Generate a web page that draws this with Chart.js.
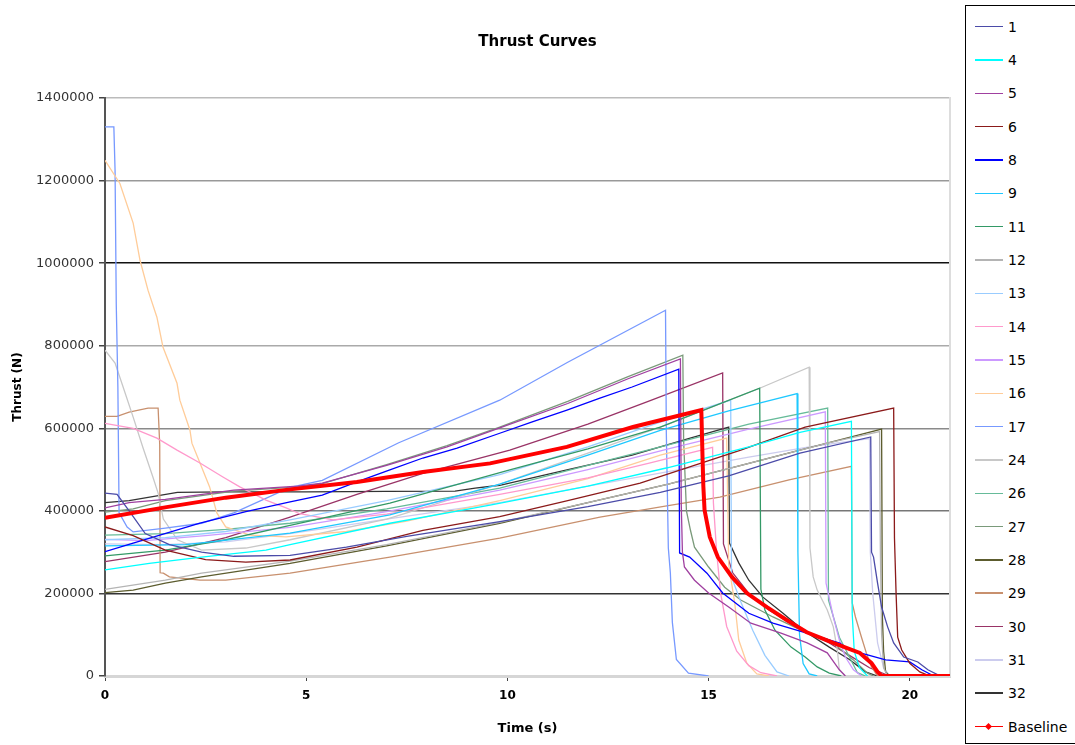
<!DOCTYPE html>
<html>
<head>
<meta charset="utf-8">
<script src="https://cdn.jsdelivr.net/npm/chart.js@4.4.0/dist/chart.umd.min.js"></script>
<style>
  html, body { margin:0; padding:0; background:#fff; overflow:hidden; }
  #wrap { position:absolute; left:0; top:0; width:1075px; height:745px; }
  #legend { position:absolute; left:965px; top:5px; width:140px; height:739px; border:1px solid #000; box-sizing:border-box; background:#fff;
            font-family:"DejaVu Sans", sans-serif; font-size:14px; color:#000; padding-top:4px; }
  .row { display:flex; align-items:center; height:33.333px; }
  .sample { position:relative; margin-left:9px; width:28px; height:2px; }
  .dia { position:absolute; left:11px; top:-2px; width:5px; height:5px; background:#ff0000; transform:rotate(45deg); }
  .lab { margin-left:5px; white-space:nowrap; }
</style>
</head>
<body>
<div id="wrap"><canvas id="c" width="1075" height="745"></canvas></div>
<div id="legend"></div>
<script>
// ---- tick labels ----
const xTicks = [0, 5, 10, 15, 20];
const yTicks = [0, 200000, 400000, 600000, 800000, 1000000, 1200000, 1400000];

// ---- series names (legend order) ----
const seriesNames = ['1','4','5','6','8','9','11','12','13','14','15','16','17','24','26','27','28','29','30','31','32','Baseline'];

// ---- series values: [time (s), thrust (N)] ----
const s1 = [[0,443000],[0.3,440000],[0.6,400000],[1.0,345000],[1.6,318000],[2.4,300000],[3.2,290000],[4.6,292000],[6,312000],[7.5,338000],[9.81,374000],[12,410000],[13.8,445000],[15.5,485000],[17.27,540000],[19.03,579000],[19.05,300000],[19.1,288000],[19.2,225000],[19.3,167000],[19.45,119000],[19.6,80000],[19.85,46000],[20.2,34000],[20.45,15000],[20.7,3000],[21,0]];
const s4 = [[0,257000],[1.1,273000],[2.4,288000],[4,305000],[4.6,318000],[7.08,370000],[9.57,414000],[12,460000],[14,505000],[16,555000],[17.27,590000],[18.55,617000],[18.57,150000],[18.62,60000],[18.75,20000],[18.95,0]];
const s5 = [[0,407000],[0.6,420000],[1.5,428000],[3.2,450000],[4.8,460000],[5.4,467000],[7,510000],[8.5,555000],[9.81,601000],[11.5,660000],[13,720000],[14.3,768000],[14.32,420000],[14.35,300000],[14.4,264000],[14.65,232000],[15,201000],[15.5,167000],[16.05,128000],[16.8,104000],[17.45,80000],[17.95,56000],[18.25,15000],[18.4,0]];
const s6 = [[0,361000],[0.7,340000],[1.5,305000],[2.5,282000],[3.5,276000],[4.6,281000],[6.26,312000],[7.9,353000],[9.81,386000],[11.5,425000],[13.3,467000],[15.8,547000],[17.4,603000],[19.6,649000],[19.62,334000],[19.66,200000],[19.7,94000],[19.8,63000],[20,31000],[20.25,10000],[20.5,0]];
const s8 = [[0,301000],[0.7,322000],[1.53,346000],[2.36,370000],[3.5,398000],[4.6,422000],[5.4,438000],[6.26,470000],[7.08,499000],[7.9,528000],[8.75,552000],[9.81,588000],[10.6,615000],[11.48,644000],[12.3,673000],[13.1,700000],[14.26,743000],[14.28,298000],[14.53,288000],[14.96,249000],[15.35,201000],[16,152000],[16.6,128000],[17.44,104000],[18.26,80000],[18.5,63000],[19.4,39000],[20,34000],[20.3,15000],[20.6,0]];
const s9 = [[0,315000],[2,318000],[4.6,346000],[7.08,390000],[9.81,465000],[12,535000],[13.8,595000],[15.5,642000],[17.2,684000],[17.22,300000],[17.26,100000],[17.35,30000],[17.5,5000],[17.7,0]];
const s11 = [[0,291000],[1.5,305000],[3,330000],[4.6,365000],[7.08,419000],[10.06,499000],[12,550000],[13.8,603000],[16.27,697000],[16.3,210000],[16.4,160000],[16.65,111000],[17.05,70000],[17.4,46000],[17.7,22000],[18,7000],[18.3,0]];
const s12 = [[0,210000],[1.5,232000],[2.4,249000],[4.6,278000],[7,318000],[9.81,372000],[12,420000],[14,465000],[16,515000],[18,565000],[19.25,592000],[19.27,300000],[19.3,100000],[19.35,20000],[19.45,0]];
const s13 = [[0,330000],[1.5,335000],[3,350000],[4.6,378000],[7,425000],[9.81,488000],[12,555000],[13.8,615000],[15.55,668000],[15.57,240000],[15.8,180000],[16.1,110000],[16.4,50000],[16.7,10000],[17,0]];
const s14 = [[0,612000],[0.7,600000],[1.29,576000],[1.79,547000],[2.36,516000],[2.93,482000],[3.35,458000],[4,426000],[4.5,407000],[4.84,393000],[5.67,378000],[7,392000],[9.81,440000],[12,480000],[13.5,515000],[15.1,554000],[15.12,420000],[15.2,300000],[15.3,200000],[15.45,120000],[15.7,60000],[16,25000],[16.3,8000],[16.7,0]];
const s15 = [[0,331000],[1,328000],[2.5,340000],[4.6,360000],[7,398000],[9.81,450000],[12,500000],[14,550000],[16,598000],[17.9,640000],[17.92,225000],[18.1,143000],[18.25,87000],[18.4,46000],[18.6,15000],[18.8,0]];
const s16 = [[0,1249000],[0.37,1193000],[0.7,1097000],[0.87,1007000],[1.07,934000],[1.29,869000],[1.44,797000],[1.79,709000],[1.86,668000],[2.11,596000],[2.16,564000],[2.36,516000],[2.6,458000],[2.78,395000],[3,361000],[3.6,341000],[4.5,337000],[6,350000],[7.5,375000],[9.81,425000],[12,478000],[13.8,535000],[15.45,576000],[15.5,270000],[15.65,177000],[15.75,87000],[15.95,31000],[16.2,5000],[16.5,0]];
const s17 = [[0,1330000],[0.22,1330000],[0.25,1225000],[0.28,900000],[0.32,700000],[0.35,395000],[0.55,361000],[0.7,349000],[1.5,358000],[2.4,370000],[3.2,395000],[4.6,457000],[5.4,474000],[7.3,565000],[9.81,668000],[11.5,760000],[13.93,886000],[13.95,590000],[14,310000],[14.05,250000],[14.1,130000],[14.2,40000],[14.5,7000],[15,0]];
const s24 = [[0,789000],[0.25,758000],[0.45,700000],[0.7,627000],[0.94,554000],[1.19,482000],[1.32,443000],[1.45,380000],[1.8,330000],[2.4,305000],[3.5,310000],[4.6,330000],[7,380000],[9.81,465000],[12,540000],[14,610000],[16.27,697000],[17.5,748000],[17.52,310000],[17.6,240000],[17.7,208000],[17.95,160000],[18.1,119000],[18.2,63000],[18.25,15000],[18.4,0]];
const s26 = [[0,341000],[1.5,345000],[3,355000],[4.6,370000],[7,405000],[9.81,455000],[12,510000],[14,560000],[16,610000],[17.96,649000],[17.98,184000],[18.25,94000],[18.5,46000],[18.7,8000],[18.9,0]];
const s27 = [[0,397000],[0.7,405000],[1.5,425000],[3.2,448000],[4.8,458000],[5.4,466000],[7,512000],[8.5,558000],[9.81,603000],[11.5,665000],[13,725000],[14.36,777000],[14.38,571000],[14.45,400000],[14.55,353000],[14.65,312000],[15,264000],[15.4,215000],[15.8,184000],[16.6,143000],[17.3,111000],[18,87000],[18.6,39000],[18.95,7000],[19.1,0]];
const s28 = [[0,202000],[0.7,208000],[1.5,225000],[2.4,240000],[4.6,273000],[7,315000],[9.81,370000],[12,420000],[14,465000],[16,515000],[17.27,547000],[19.3,598000],[19.32,143000],[19.35,60000],[19.4,10000],[19.5,0]];
const s29 = [[0,629000],[0.3,629000],[0.6,639000],[1.07,649000],[1.32,649000],[1.36,560000],[1.37,250000],[1.45,249000],[1.6,240000],[2.36,232000],[3,232000],[4.6,249000],[7.08,288000],[9.81,334000],[12.3,385000],[13.96,412000],[15.28,433000],[17,475000],[18.55,508000],[18.57,177000],[18.65,143000],[18.8,94000],[18.92,56000],[19.05,22000],[19.2,0]];
const s30 = [[0,277000],[1.5,300000],[3,335000],[4.6,385000],[6.26,440000],[7.9,491000],[10.06,547000],[12,610000],[13.5,665000],[15.35,734000],[15.37,320000],[15.6,250000],[16,200000],[16.5,160000],[17,130000],[17.5,105000],[18,80000],[18.5,50000],[19,20000],[19.5,0]];
const s31 = [[0,320000],[1.5,318000],[3,325000],[4.6,345000],[7,380000],[9.81,420000],[12,460000],[14,495000],[16,530000],[17.5,555000],[19,575000],[19.02,300000],[19.08,200000],[19.2,80000],[19.35,20000],[19.5,0]];
const s32 = [[0,420000],[0.6,425000],[1.8,445000],[3,446000],[5,446000],[7,447000],[8.7,448000],[9.2,455000],[9.81,462000],[11.48,499000],[13.1,535000],[14.5,575000],[15.5,603000],[15.52,322000],[15.75,274000],[16,232000],[16.35,191000],[16.85,152000],[17.35,111000],[18,70000],[18.5,40000],[18.9,10000],[19.2,0]];
const baseline = [[0,383000],[1.53,409000],[3,432000],[4.6,452000],[6.26,470000],[7.9,494000],[9.57,515000],[11.48,555000],[13.12,603000],[14.82,644000],[14.85,530000],[14.87,460000],[14.9,402000],[15.03,337000],[15.23,288000],[15.58,240000],[15.95,201000],[16.45,167000],[16.95,135000],[17.44,106000],[18.1,80000],[18.76,56000],[19.05,31000],[19.2,10000],[19.3,0],[21,0]];

const seriesData = [s1,s4,s5,s6,s8,s9,s11,s12,s13,s14,s15,s16,s17,s24,s26,s27,s28,s29,s30,s31,s32,baseline];

// ---- styles ----
const seriesColors = ['#4b4ba8','#00ffff','#a040a0','#8b1a1a','#0000ff','#1ec8ff','#339966','#b4b4b4','#99ccff','#ff99cc','#cc99ff','#ffcc99','#7799ff','#c8c8c8','#66bb99','#7a9a7a','#5c5c2e','#c8906e','#993366','#ccccee','#333333','#ff0000'];
const gridColorFor = {0:'rgba(0,0,0,0)',200000:'#333333',400000:'#777777',600000:'#8a8a8a',800000:'#aaaaaa',1000000:'#111111',1200000:'#999999',1400000:'#bbbbbb'};

const datasets = seriesData.map((arr, i) => {
  const isBase = seriesNames[i] === 'Baseline';
  return {
    label: seriesNames[i],
    data: arr.map(p => ({x: p[0], y: p[1]})),
    borderColor: seriesColors[i],
    backgroundColor: seriesColors[i],
    borderWidth: isBase ? 4 : 1.3,
    pointRadius: 0,
    tension: 0,
    fill: false,
    order: isBase ? -1 : i
  };
});

const htmlLegend = {
  id: 'htmlLegend',
  afterUpdate(chart) {
    const box = document.getElementById('legend');
    box.innerHTML = '';
    chart.data.datasets.forEach(ds => {
      const row = document.createElement('div'); row.className = 'row';
      const smp = document.createElement('div'); smp.className = 'sample';
      smp.style.background = ds.borderColor;
      if (ds.label === 'Baseline') {
        smp.style.height = '1px';
        const d = document.createElement('div'); d.className = 'dia'; smp.appendChild(d);
      } else { smp.style.height = '1.5px'; }
      const lab = document.createElement('span'); lab.className = 'lab'; lab.textContent = ds.label;
      row.appendChild(smp); row.appendChild(lab); box.appendChild(row);
    });
  }
};

new Chart(document.getElementById('c'), {
  type: 'line',
  data: { datasets },
  plugins: [htmlLegend],
  options: {
    responsive: false,
    animation: false,
    layout: { padding: 0 },
    plugins: {
      legend: { display: false },
      tooltip: { enabled: false },
      title: { display: true, text: 'Thrust Curves', color: '#000',
               font: { family: 'DejaVu Sans', size: 15, weight: 'bold' },
               padding: { top: 33, bottom: 47 } }
    },
    scales: {
      x: {
        type: 'linear', position: 'bottom', min: 0, max: 21,
        afterBuildTicks: s => { s.ticks = xTicks.map(v => ({ value: v })); },
        afterFit: s => { s.height = 69; },
        grid: { display: true, drawOnChartArea: false, drawTicks: true, tickLength: 5, color: '#444', tickColor: '#444' },
        border: { display: true, color: '#d6d6d6', width: 3 },
        ticks: { color: '#000', padding: 8, maxRotation: 0, font: { family: 'DejaVu Sans', size: 12, weight: 'bold' } },
        title: { display: true, text: 'Time (s)', color: '#000', font: { family: 'DejaVu Sans', size: 13, weight: 'bold' }, padding: { top: 0, bottom: 9 } }
      },
      y: {
        type: 'linear', position: 'left', min: 0, max: 1400000,
        afterBuildTicks: s => { s.ticks = yTicks.map(v => ({ value: v })); },
        afterFit: s => { s.width = 105; },
        grid: { color: c => (c.tick && gridColorFor[c.tick.value] !== undefined) ? gridColorFor[c.tick.value] : '#999', lineWidth: 1.5, tickLength: 6, tickColor: '#444', drawTicks: true },
        border: { display: true, color: '#555', width: 2 },
        ticks: { color: '#333', padding: 5, font: { family: 'DejaVu Sans', size: 13 }, callback: v => String(v) },
        title: { display: true, text: 'Thrust (N)', color: '#000', font: { family: 'DejaVu Sans', size: 12, weight: 'bold' }, padding: { top: 11, bottom: 0 } }
      },
      y2: {
        type: 'linear', position: 'right', display: true,
        afterFit: s => { s.width = 125; },
        grid: { display: false },
        ticks: { display: false },
        border: { display: true, color: '#dddddd', width: 2 }
      }
    }
  }
});
</script>
</body>
</html>
